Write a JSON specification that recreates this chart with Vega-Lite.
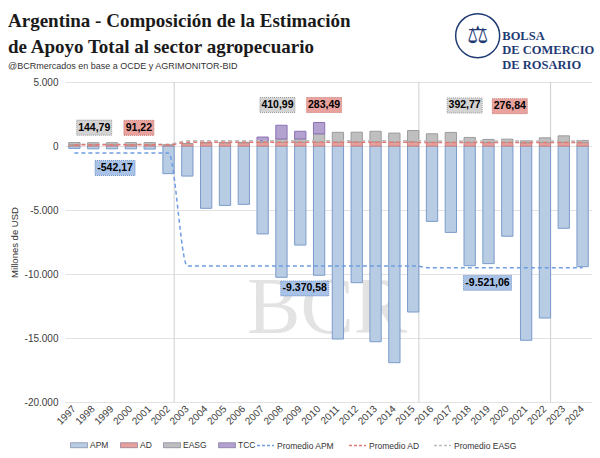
{
  "$schema": "https://vega.github.io/schema/vega-lite/v6.json",
  "width": 527,
  "height": 320,
  "autosize": {"type": "none"},
  "padding": {"left": 65, "top": 82, "right": 8, "bottom": 56},
  "background": "#ffffff",
  "title": {
    "text": ["Argentina - Composición de la Estimación", "de Apoyo Total al sector agropecuario"],
    "subtitle": "@BCRmercados en base a OCDE y AGRIMONITOR-BID",
    "anchor": "start",
    "frame": "group",
    "orient": "top",
    "dx": -57,
    "offset": -60,
    "font": "Liberation Serif",
    "fontSize": 19,
    "fontWeight": "bold",
    "color": "#1a1a1a",
    "lineHeight": 26,
    "subtitleFont": "Liberation Sans",
    "subtitleFontSize": 9,
    "subtitleColor": "#333333",
    "subtitlePadding": 5
  },
  "config": {
    "locale": {"number": {"decimal": ",", "thousands": ".", "grouping": [3], "currency": ["$", ""], "minus": "-"}},
    "view": {"stroke": null},
    "font": "Liberation Sans",
    "axis": {
      "labelFont": "Liberation Sans",
      "labelColor": "#404040",
      "labelFontSize": 10,
      "titleFont": "Liberation Sans",
      "titleFontWeight": "normal",
      "titleFontSize": 9.5,
      "titleColor": "#333333",
      "ticks": false,
      "domain": false,
      "gridColor": "#e2e2e2",
      "gridWidth": 1
    },
    "legend": {
      "labelFont": "Liberation Sans",
      "labelFontSize": 8.5,
      "labelColor": "#333333",
      "labelOffset": 2,
      "padding": 0,
      "gridAlign": "each"
    }
  },
  "resolve": {"scale": {"color": "independent"}},
  "datasets": {
    "barras": [
      {"anio": "1997", "serie": "APM", "valor": -190},
      {"anio": "1998", "serie": "APM", "valor": -220},
      {"anio": "1999", "serie": "APM", "valor": -220},
      {"anio": "2000", "serie": "APM", "valor": -220},
      {"anio": "2001", "serie": "APM", "valor": -240},
      {"anio": "2002", "serie": "APM", "valor": -2160},
      {"anio": "2003", "serie": "APM", "valor": -2350},
      {"anio": "2004", "serie": "APM", "valor": -4870},
      {"anio": "2005", "serie": "APM", "valor": -4640},
      {"anio": "2006", "serie": "APM", "valor": -4560},
      {"anio": "2007", "serie": "APM", "valor": -6870},
      {"anio": "2008", "serie": "APM", "valor": -10260},
      {"anio": "2009", "serie": "APM", "valor": -7740},
      {"anio": "2010", "serie": "APM", "valor": -10100},
      {"anio": "2011", "serie": "APM", "valor": -15080},
      {"anio": "2012", "serie": "APM", "valor": -10680},
      {"anio": "2013", "serie": "APM", "valor": -15290},
      {"anio": "2014", "serie": "APM", "valor": -16930},
      {"anio": "2015", "serie": "APM", "valor": -12970},
      {"anio": "2016", "serie": "APM", "valor": -5890},
      {"anio": "2017", "serie": "APM", "valor": -6750},
      {"anio": "2018", "serie": "APM", "valor": -9350},
      {"anio": "2019", "serie": "APM", "valor": -9190},
      {"anio": "2020", "serie": "APM", "valor": -7050},
      {"anio": "2021", "serie": "APM", "valor": -15180},
      {"anio": "2022", "serie": "APM", "valor": -13440},
      {"anio": "2023", "serie": "APM", "valor": -6430},
      {"anio": "2024", "serie": "APM", "valor": -9430},
      {"anio": "1997", "serie": "AD", "valor": 100},
      {"anio": "1998", "serie": "AD", "valor": 100},
      {"anio": "1999", "serie": "AD", "valor": 100},
      {"anio": "2000", "serie": "AD", "valor": 100},
      {"anio": "2001", "serie": "AD", "valor": 100},
      {"anio": "2002", "serie": "AD", "valor": 45},
      {"anio": "2003", "serie": "AD", "valor": 185},
      {"anio": "2004", "serie": "AD", "valor": 250},
      {"anio": "2005", "serie": "AD", "valor": 250},
      {"anio": "2006", "serie": "AD", "valor": 250},
      {"anio": "2007", "serie": "AD", "valor": 270},
      {"anio": "2008", "serie": "AD", "valor": 290},
      {"anio": "2009", "serie": "AD", "valor": 290},
      {"anio": "2010", "serie": "AD", "valor": 300},
      {"anio": "2011", "serie": "AD", "valor": 310},
      {"anio": "2012", "serie": "AD", "valor": 320},
      {"anio": "2013", "serie": "AD", "valor": 330},
      {"anio": "2014", "serie": "AD", "valor": 310},
      {"anio": "2015", "serie": "AD", "valor": 330},
      {"anio": "2016", "serie": "AD", "valor": 300},
      {"anio": "2017", "serie": "AD", "valor": 290},
      {"anio": "2018", "serie": "AD", "valor": 280},
      {"anio": "2019", "serie": "AD", "valor": 270},
      {"anio": "2020", "serie": "AD", "valor": 280},
      {"anio": "2021", "serie": "AD", "valor": 250},
      {"anio": "2022", "serie": "AD", "valor": 270},
      {"anio": "2023", "serie": "AD", "valor": 290},
      {"anio": "2024", "serie": "AD", "valor": 260},
      {"anio": "1997", "serie": "EASG", "valor": 170},
      {"anio": "1998", "serie": "EASG", "valor": 160},
      {"anio": "1999", "serie": "EASG", "valor": 160},
      {"anio": "2000", "serie": "EASG", "valor": 165},
      {"anio": "2001", "serie": "EASG", "valor": 165},
      {"anio": "2002", "serie": "EASG", "valor": 50},
      {"anio": "2003", "serie": "EASG", "valor": 10},
      {"anio": "2004", "serie": "EASG", "valor": 30},
      {"anio": "2005", "serie": "EASG", "valor": 40},
      {"anio": "2006", "serie": "EASG", "valor": 40},
      {"anio": "2007", "serie": "EASG", "valor": 140},
      {"anio": "2008", "serie": "EASG", "valor": 260},
      {"anio": "2009", "serie": "EASG", "valor": 260},
      {"anio": "2010", "serie": "EASG", "valor": 650},
      {"anio": "2011", "serie": "EASG", "valor": 760},
      {"anio": "2012", "serie": "EASG", "valor": 760},
      {"anio": "2013", "serie": "EASG", "valor": 820},
      {"anio": "2014", "serie": "EASG", "valor": 700},
      {"anio": "2015", "serie": "EASG", "valor": 880},
      {"anio": "2016", "serie": "EASG", "valor": 655},
      {"anio": "2017", "serie": "EASG", "valor": 770},
      {"anio": "2018", "serie": "EASG", "valor": 390},
      {"anio": "2019", "serie": "EASG", "valor": 245},
      {"anio": "2020", "serie": "EASG", "valor": 255},
      {"anio": "2021", "serie": "EASG", "valor": 155},
      {"anio": "2022", "serie": "EASG", "valor": 370},
      {"anio": "2023", "serie": "EASG", "valor": 505},
      {"anio": "2024", "serie": "EASG", "valor": 175},
      {"anio": "2007", "serie": "TCC", "valor": 290},
      {"anio": "2008", "serie": "TCC", "valor": 1070},
      {"anio": "2009", "serie": "TCC", "valor": 600},
      {"anio": "2010", "serie": "TCC", "valor": 885}
    ],
    "promedios": [
      {"anio": "1997", "serie": "Promedio EASG", "valor": 144.79},
      {"anio": "1998", "serie": "Promedio EASG", "valor": 144.79},
      {"anio": "1999", "serie": "Promedio EASG", "valor": 144.79},
      {"anio": "2000", "serie": "Promedio EASG", "valor": 144.79},
      {"anio": "2001", "serie": "Promedio EASG", "valor": 144.79},
      {"anio": "2002", "serie": "Promedio EASG", "valor": 144.79},
      {"anio": "2003", "serie": "Promedio EASG", "valor": 410.99},
      {"anio": "2004", "serie": "Promedio EASG", "valor": 410.99},
      {"anio": "2005", "serie": "Promedio EASG", "valor": 410.99},
      {"anio": "2006", "serie": "Promedio EASG", "valor": 410.99},
      {"anio": "2007", "serie": "Promedio EASG", "valor": 410.99},
      {"anio": "2008", "serie": "Promedio EASG", "valor": 410.99},
      {"anio": "2009", "serie": "Promedio EASG", "valor": 410.99},
      {"anio": "2010", "serie": "Promedio EASG", "valor": 410.99},
      {"anio": "2011", "serie": "Promedio EASG", "valor": 410.99},
      {"anio": "2012", "serie": "Promedio EASG", "valor": 410.99},
      {"anio": "2013", "serie": "Promedio EASG", "valor": 410.99},
      {"anio": "2014", "serie": "Promedio EASG", "valor": 410.99},
      {"anio": "2015", "serie": "Promedio EASG", "valor": 410.99},
      {"anio": "2016", "serie": "Promedio EASG", "valor": 392.77},
      {"anio": "2017", "serie": "Promedio EASG", "valor": 392.77},
      {"anio": "2018", "serie": "Promedio EASG", "valor": 392.77},
      {"anio": "2019", "serie": "Promedio EASG", "valor": 392.77},
      {"anio": "2020", "serie": "Promedio EASG", "valor": 392.77},
      {"anio": "2021", "serie": "Promedio EASG", "valor": 392.77},
      {"anio": "2022", "serie": "Promedio EASG", "valor": 392.77},
      {"anio": "2023", "serie": "Promedio EASG", "valor": 392.77},
      {"anio": "2024", "serie": "Promedio EASG", "valor": 392.77},
      {"anio": "1997", "serie": "Promedio AD", "valor": 91.22},
      {"anio": "1998", "serie": "Promedio AD", "valor": 91.22},
      {"anio": "1999", "serie": "Promedio AD", "valor": 91.22},
      {"anio": "2000", "serie": "Promedio AD", "valor": 91.22},
      {"anio": "2001", "serie": "Promedio AD", "valor": 91.22},
      {"anio": "2002", "serie": "Promedio AD", "valor": 91.22},
      {"anio": "2003", "serie": "Promedio AD", "valor": 283.49},
      {"anio": "2004", "serie": "Promedio AD", "valor": 283.49},
      {"anio": "2005", "serie": "Promedio AD", "valor": 283.49},
      {"anio": "2006", "serie": "Promedio AD", "valor": 283.49},
      {"anio": "2007", "serie": "Promedio AD", "valor": 283.49},
      {"anio": "2008", "serie": "Promedio AD", "valor": 283.49},
      {"anio": "2009", "serie": "Promedio AD", "valor": 283.49},
      {"anio": "2010", "serie": "Promedio AD", "valor": 283.49},
      {"anio": "2011", "serie": "Promedio AD", "valor": 283.49},
      {"anio": "2012", "serie": "Promedio AD", "valor": 283.49},
      {"anio": "2013", "serie": "Promedio AD", "valor": 283.49},
      {"anio": "2014", "serie": "Promedio AD", "valor": 283.49},
      {"anio": "2015", "serie": "Promedio AD", "valor": 283.49},
      {"anio": "2016", "serie": "Promedio AD", "valor": 276.84},
      {"anio": "2017", "serie": "Promedio AD", "valor": 276.84},
      {"anio": "2018", "serie": "Promedio AD", "valor": 276.84},
      {"anio": "2019", "serie": "Promedio AD", "valor": 276.84},
      {"anio": "2020", "serie": "Promedio AD", "valor": 276.84},
      {"anio": "2021", "serie": "Promedio AD", "valor": 276.84},
      {"anio": "2022", "serie": "Promedio AD", "valor": 276.84},
      {"anio": "2023", "serie": "Promedio AD", "valor": 276.84},
      {"anio": "2024", "serie": "Promedio AD", "valor": 276.84},
      {"anio": "1997", "serie": "Promedio APM", "valor": -542.17},
      {"anio": "1998", "serie": "Promedio APM", "valor": -542.17},
      {"anio": "1999", "serie": "Promedio APM", "valor": -542.17},
      {"anio": "2000", "serie": "Promedio APM", "valor": -542.17},
      {"anio": "2001", "serie": "Promedio APM", "valor": -542.17},
      {"anio": "2002", "serie": "Promedio APM", "valor": -542.17},
      {"anio": "2003", "serie": "Promedio APM", "valor": -9370.58},
      {"anio": "2004", "serie": "Promedio APM", "valor": -9370.58},
      {"anio": "2005", "serie": "Promedio APM", "valor": -9370.58},
      {"anio": "2006", "serie": "Promedio APM", "valor": -9370.58},
      {"anio": "2007", "serie": "Promedio APM", "valor": -9370.58},
      {"anio": "2008", "serie": "Promedio APM", "valor": -9370.58},
      {"anio": "2009", "serie": "Promedio APM", "valor": -9370.58},
      {"anio": "2010", "serie": "Promedio APM", "valor": -9370.58},
      {"anio": "2011", "serie": "Promedio APM", "valor": -9370.58},
      {"anio": "2012", "serie": "Promedio APM", "valor": -9370.58},
      {"anio": "2013", "serie": "Promedio APM", "valor": -9370.58},
      {"anio": "2014", "serie": "Promedio APM", "valor": -9370.58},
      {"anio": "2015", "serie": "Promedio APM", "valor": -9370.58},
      {"anio": "2016", "serie": "Promedio APM", "valor": -9521.06},
      {"anio": "2017", "serie": "Promedio APM", "valor": -9521.06},
      {"anio": "2018", "serie": "Promedio APM", "valor": -9521.06},
      {"anio": "2019", "serie": "Promedio APM", "valor": -9521.06},
      {"anio": "2020", "serie": "Promedio APM", "valor": -9521.06},
      {"anio": "2021", "serie": "Promedio APM", "valor": -9521.06},
      {"anio": "2022", "serie": "Promedio APM", "valor": -9521.06},
      {"anio": "2023", "serie": "Promedio APM", "valor": -9521.06},
      {"anio": "2024", "serie": "Promedio APM", "valor": -9521.06}
    ],
    "etiquetas": [
      {"anio": "1998", "serie": "EASG", "valor": 144.79},
      {"anio": "2000", "serie": "AD", "valor": 91.22},
      {"anio": "1999", "serie": "APM", "valor": -542.17},
      {"anio": "2008", "serie": "EASG", "valor": 410.99},
      {"anio": "2010", "serie": "AD", "valor": 283.49},
      {"anio": "2009", "serie": "APM", "valor": -9370.58},
      {"anio": "2018", "serie": "EASG", "valor": 392.77},
      {"anio": "2020", "serie": "AD", "valor": 276.84},
      {"anio": "2019", "serie": "APM", "valor": -9521.06}
    ],
    "cortes": [{"anio": "2002"}, {"anio": "2015"}, {"anio": "2022"}],
    "marca": [{"texto": "BCR"}],
    "logo": [{"texto": "BOLSA\nDE COMERCIO\nDE ROSARIO", "emblema": "⚖"}]
  },
  "layer": [
    {
      "data": {"name": "marca"},
      "mark": {"type": "text", "font": "Liberation Serif", "fontSize": 80, "color": "#e3e3e3", "align": "center", "baseline": "middle", "xOffset": 8},
      "encoding": {
        "x": {"datum": "2010"},
        "y": {"datum": -12700},
        "text": {"field": "texto", "type": "nominal"}
      }
    },
    {
      "data": {"name": "cortes"},
      "mark": {"type": "rule", "color": "#cfcfcf", "strokeWidth": 1},
      "encoding": {
        "x": {"field": "anio", "type": "ordinal", "bandPosition": 1}
      }
    },
    {
      "data": {"name": "barras"},
      "mark": {"type": "bar", "strokeWidth": 1},
      "encoding": {
        "x": {
          "field": "anio", "type": "ordinal", "title": null,
          "scale": {"paddingInner": 0.4, "paddingOuter": 0.2},
          "axis": {"labelAngle": -45, "labelPadding": 5, "grid": false, "labelFontSize": 10}
        },
        "y": {
          "field": "valor", "type": "quantitative", "stack": "zero",
          "scale": {"domain": [-20000, 5000], "nice": false},
          "title": "Millones de USD",
          "axis": {"values": [5000, 0, -5000, -10000, -15000, -20000], "format": ",.0f", "grid": true, "labelPadding": 7, "titlePadding": 5}
        },
        "color": {
          "field": "serie", "type": "nominal",
          "scale": {"domain": ["APM", "AD", "EASG", "TCC"], "range": ["#b8cce4", "#e6a19e", "#bfbfbf", "#b3a2cf"]},
          "legend": {
            "title": null, "orient": "none", "legendX": 5, "legendY": 354, "direction": "horizontal", "columns": 4,
            "gridAlign": "each", "columnPadding": 9,
            "symbolSize": 289, "symbolStrokeWidth": 1, "symbolStrokeColor": "rgba(40,40,90,0.35)", "symbolType": "M-1,-0.3H1V0.3H-1Z"
          }
        },
        "stroke": {
          "field": "serie", "type": "nominal",
          "scale": {"domain": ["APM", "AD", "EASG", "TCC"], "range": ["#7b9bcb", "#d17f7b", "#9c9c9c", "#8a72b4"]},
          "legend": null
        },
        "order": {"field": "serie", "sort": "ascending"}
      }
    },
    {
      "data": {"name": "promedios"},
      "mark": {"type": "line", "strokeDash": [4, 3], "strokeWidth": 1.5, "interpolate": "monotone"},
      "encoding": {
        "x": {"field": "anio", "type": "ordinal", "title": null},
        "y": {"field": "valor", "type": "quantitative"},
        "color": {
          "field": "serie", "type": "nominal",
          "scale": {"domain": ["Promedio APM", "Promedio AD", "Promedio EASG"], "range": ["#6f9de0", "#e07a76", "#bdbdbd"]},
          "legend": {
            "title": null, "orient": "none", "legendX": 191, "legendY": 354, "direction": "horizontal", "columns": 3,
            "gridAlign": "each", "columnPadding": 11,
            "symbolSize": 289, "symbolStrokeWidth": 1.5, "symbolType": "stroke", "symbolDash": [3, 2]
          }
        }
      }
    },
    {
      "data": {"name": "etiquetas"},
      "transform": [{"filter": "datum.anio === '1998'"}],
      "encoding": {"x": {"field": "anio", "type": "ordinal"}, "y": {"field": "valor", "type": "quantitative"}},
      "layer": [
        {"mark": {"type": "point", "filled": true, "opacity": 1, "fill": "#d3d3d3", "stroke": "#999999", "strokeWidth": 1, "strokeDash": [1, 1], "shape": "M-1,-0.43H1V0.43H-1Z", "size": 1225, "xOffset": 1, "yOffset": -16.5}},
        {"mark": {"type": "text", "font": "Liberation Sans", "fontWeight": "bold", "fontSize": 10.5, "color": "#000000", "align": "center", "baseline": "middle", "xOffset": 1, "yOffset": -16.5}, "encoding": {"text": {"field": "valor", "type": "quantitative", "format": ",.2f"}}}
      ]
    },
    {
      "data": {"name": "etiquetas"},
      "transform": [{"filter": "datum.anio === '2000'"}],
      "encoding": {"x": {"field": "anio", "type": "ordinal"}, "y": {"field": "valor", "type": "quantitative"}},
      "layer": [
        {"mark": {"type": "point", "filled": true, "opacity": 1, "fill": "#e9a29e", "stroke": "#c97470", "strokeWidth": 1, "strokeDash": [1, 1], "shape": "M-1,-0.5H1V0.5H-1Z", "size": 900, "xOffset": 8, "yOffset": -17}},
        {"mark": {"type": "text", "font": "Liberation Sans", "fontWeight": "bold", "fontSize": 10.5, "color": "#000000", "align": "center", "baseline": "middle", "xOffset": 8, "yOffset": -17}, "encoding": {"text": {"field": "valor", "type": "quantitative", "format": ",.2f"}}}
      ]
    },
    {
      "data": {"name": "etiquetas"},
      "transform": [{"filter": "datum.anio === '1999'"}],
      "encoding": {"x": {"field": "anio", "type": "ordinal"}, "y": {"field": "valor", "type": "quantitative"}},
      "layer": [
        {"mark": {"type": "point", "filled": true, "opacity": 1, "fill": "#a9c3e8", "stroke": "#6f8fc2", "strokeWidth": 1, "strokeDash": [1, 1], "shape": "M-1,-0.375H1V0.375H-1Z", "size": 1600, "xOffset": 3, "yOffset": 15}},
        {"mark": {"type": "text", "font": "Liberation Sans", "fontWeight": "bold", "fontSize": 10.5, "color": "#000000", "align": "center", "baseline": "middle", "xOffset": 3, "yOffset": 15}, "encoding": {"text": {"field": "valor", "type": "quantitative", "format": ",.2f"}}}
      ]
    },
    {
      "data": {"name": "etiquetas"},
      "transform": [{"filter": "datum.anio === '2008'"}],
      "encoding": {"x": {"field": "anio", "type": "ordinal"}, "y": {"field": "valor", "type": "quantitative"}},
      "layer": [
        {"mark": {"type": "point", "filled": true, "opacity": 1, "fill": "#d3d3d3", "stroke": "#999999", "strokeWidth": 1, "strokeDash": [1, 1], "shape": "M-1,-0.43H1V0.43H-1Z", "size": 1225, "xOffset": -4, "yOffset": -35.7}},
        {"mark": {"type": "text", "font": "Liberation Sans", "fontWeight": "bold", "fontSize": 10.5, "color": "#000000", "align": "center", "baseline": "middle", "xOffset": -4, "yOffset": -35.7}, "encoding": {"text": {"field": "valor", "type": "quantitative", "format": ",.2f"}}}
      ]
    },
    {
      "data": {"name": "etiquetas"},
      "transform": [{"filter": "datum.anio === '2010'"}],
      "encoding": {"x": {"field": "anio", "type": "ordinal"}, "y": {"field": "valor", "type": "quantitative"}},
      "layer": [
        {"mark": {"type": "point", "filled": true, "opacity": 1, "fill": "#e9a29e", "stroke": "#c97470", "strokeWidth": 1, "strokeDash": [1, 1], "shape": "M-1,-0.43H1V0.43H-1Z", "size": 1225, "xOffset": 5, "yOffset": -37.4}},
        {"mark": {"type": "text", "font": "Liberation Sans", "fontWeight": "bold", "fontSize": 10.5, "color": "#000000", "align": "center", "baseline": "middle", "xOffset": 5, "yOffset": -37.4}, "encoding": {"text": {"field": "valor", "type": "quantitative", "format": ",.2f"}}}
      ]
    },
    {
      "data": {"name": "etiquetas"},
      "transform": [{"filter": "datum.anio === '2009'"}],
      "encoding": {"x": {"field": "anio", "type": "ordinal"}, "y": {"field": "valor", "type": "quantitative"}},
      "layer": [
        {"mark": {"type": "point", "filled": true, "opacity": 1, "fill": "#a9c3e8", "stroke": "#6f8fc2", "strokeWidth": 1, "strokeDash": [1, 1], "shape": "M-1,-0.31H1V0.31H-1Z", "size": 2304, "xOffset": 4.5, "yOffset": 22.5}},
        {"mark": {"type": "text", "font": "Liberation Sans", "fontWeight": "bold", "fontSize": 10.5, "color": "#000000", "align": "center", "baseline": "middle", "xOffset": 4.5, "yOffset": 22.5}, "encoding": {"text": {"field": "valor", "type": "quantitative", "format": ",.2f"}}}
      ]
    },
    {
      "data": {"name": "etiquetas"},
      "transform": [{"filter": "datum.anio === '2018'"}],
      "encoding": {"x": {"field": "anio", "type": "ordinal"}, "y": {"field": "valor", "type": "quantitative"}},
      "layer": [
        {"mark": {"type": "point", "filled": true, "opacity": 1, "fill": "#d3d3d3", "stroke": "#999999", "strokeWidth": 1, "strokeDash": [1, 1], "shape": "M-1,-0.43H1V0.43H-1Z", "size": 1225, "xOffset": -5, "yOffset": -35.5}},
        {"mark": {"type": "text", "font": "Liberation Sans", "fontWeight": "bold", "fontSize": 10.5, "color": "#000000", "align": "center", "baseline": "middle", "xOffset": -5, "yOffset": -35.5}, "encoding": {"text": {"field": "valor", "type": "quantitative", "format": ",.2f"}}}
      ]
    },
    {
      "data": {"name": "etiquetas"},
      "transform": [{"filter": "datum.anio === '2020'"}],
      "encoding": {"x": {"field": "anio", "type": "ordinal"}, "y": {"field": "valor", "type": "quantitative"}},
      "layer": [
        {"mark": {"type": "point", "filled": true, "opacity": 1, "fill": "#e9a29e", "stroke": "#c97470", "strokeWidth": 1, "strokeDash": [1, 1], "shape": "M-1,-0.43H1V0.43H-1Z", "size": 1225, "xOffset": 2.5, "yOffset": -36.3}},
        {"mark": {"type": "text", "font": "Liberation Sans", "fontWeight": "bold", "fontSize": 10.5, "color": "#000000", "align": "center", "baseline": "middle", "xOffset": 2.5, "yOffset": -36.3}, "encoding": {"text": {"field": "valor", "type": "quantitative", "format": ",.2f"}}}
      ]
    },
    {
      "data": {"name": "etiquetas"},
      "transform": [{"filter": "datum.anio === '2019'"}],
      "encoding": {"x": {"field": "anio", "type": "ordinal"}, "y": {"field": "valor", "type": "quantitative"}},
      "layer": [
        {"mark": {"type": "point", "filled": true, "opacity": 1, "fill": "#a9c3e8", "stroke": "#6f8fc2", "strokeWidth": 1, "strokeDash": [1, 1], "shape": "M-1,-0.31H1V0.31H-1Z", "size": 2304, "xOffset": -1, "yOffset": 15}},
        {"mark": {"type": "text", "font": "Liberation Sans", "fontWeight": "bold", "fontSize": 10.5, "color": "#000000", "align": "center", "baseline": "middle", "xOffset": -1, "yOffset": 15}, "encoding": {"text": {"field": "valor", "type": "quantitative", "format": ",.2f"}}}
      ]
    },
    {
      "data": {"name": "logo"},
      "layer": [
        {
          "mark": {"type": "point", "shape": "circle", "filled": false, "size": 1936, "stroke": "#1f3b73", "strokeWidth": 1.5, "opacity": 1, "xOffset": 8},
          "encoding": {
            "x": {"datum": "2018"},
            "y": {"datum": 8617}
          }
        },
        {
          "mark": {"type": "text", "font": "DejaVu Sans", "fontSize": 24, "color": "#1f3b73", "xOffset": 8, "align": "center", "baseline": "middle"},
          "encoding": {
            "x": {"datum": "2018"},
            "y": {"datum": 8617},
            "text": {"field": "emblema", "type": "nominal"}
          }
        },
        {
          "mark": {"type": "text", "font": "Liberation Serif", "fontSize": 12.5, "fontWeight": "bold", "color": "#1f3b73", "align": "left", "baseline": "middle", "lineBreak": "\n", "lineHeight": 14.5, "xOffset": -5},
          "encoding": {
            "x": {"datum": "2020"},
            "y": {"datum": 8617},
            "text": {"field": "texto", "type": "nominal"}
          }
        }
      ]
    }
  ]
}
